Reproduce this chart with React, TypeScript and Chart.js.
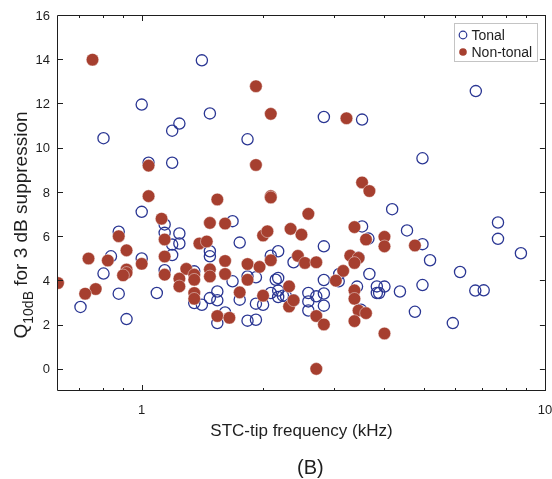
import React, { useEffect, useRef } from 'react';
import { Chart, registerables } from 'chart.js';

Chart.register(...registerables);

// STC-tip frequency (kHz) and Q10dB values
const tonalFreq = [
  1.41, 1.0, 1.476, 1.24, 1.19, 0.804, 1.83, 1.04, 1.19, 6.74,
  2.83, 3.52, 4.97, 4.18, 7.65, 3.52, 3.65, 4.55, 7.65, 4.97,
  8.72, 2.83, 5.19, 2.38, 3.45, 3.09, 3.08, 3.67, 6.16, 2.83,
  3.42, 3.83, 3.83, 4.0, 4.37, 4.97, 6.72, 7.05, 2.59, 2.71,
  2.83, 2.59, 2.83, 2.59, 2.38, 3.5, 4.76, 5.91, 1.0, 1.14,
  1.14, 1.24, 1.24, 1.19, 1.19, 1.68, 1.476, 1.476, 1.75, 1.68,
  1.75, 1.83, 1.92, 2.09, 2.18, 1.92, 2.0, 2.09, 2.18, 2.18,
  2.18, 2.24, 1.83, 1.92, 1.54, 1.61, 1.54, 1.54, 1.476, 1.41,
  1.35, 1.35, 1.09, 1.14, 1.0, 0.877, 0.839, 0.804, 0.877, 0.705,
  0.917, 2.15, 2.28, 3.88
];
const tonalQ = [
  13.95, 11.95, 11.55, 11.09, 10.77, 10.43, 10.38, 9.32, 9.32, 12.56,
  11.39, 11.27, 9.52, 7.22, 6.62, 6.44, 5.89, 6.26, 5.88, 5.64,
  5.23, 5.54, 4.91, 4.82, 5.02, 4.29, 3.96, 4.29, 4.38, 4.02,
  3.72, 3.73, 3.43, 3.72, 3.5, 3.79, 3.54, 3.55, 3.43, 3.28,
  3.41, 3.05, 2.86, 2.64, 3.1, 2.67, 2.58, 2.07, 7.1, 6.53,
  6.15, 6.12, 5.67, 5.62, 5.15, 6.68, 5.32, 5.09, 5.71, 3.96,
  3.13, 4.18, 4.14, 5.12, 5.32, 2.95, 2.9, 3.43, 4.11, 3.54,
  3.25, 3.31, 2.18, 2.22, 2.07, 2.55, 3.5, 3.1, 3.2, 2.9,
  2.98, 4.41, 3.43, 4.46, 4.99, 6.2, 5.09, 4.31, 3.4, 2.8,
  2.25, 4.03, 3.28, 3.43
];
const nonTonalFreq = [
  0.755, 1.92, 2.09, 1.04, 1.92, 1.04, 1.54, 2.09, 2.09, 3.22,
  3.52, 3.67, 2.59, 2.34, 2.49, 3.37, 3.6, 4.0, 4.0, 4.76,
  2.44, 2.54, 2.71, 3.29, 3.45, 3.37, 3.16, 3.03, 3.37, 3.37,
  2.32, 2.38, 2.32, 3.45, 3.6, 2.71, 2.83, 3.37, 4.0, 2.71,
  1.12, 1.14, 1.14, 1.476, 1.61, 1.39, 1.45, 1.61, 1.476, 1.61,
  1.476, 1.75, 1.83, 1.83, 1.96, 2.0, 2.05, 2.09, 2.0, 1.54,
  1.65, 1.35, 1.35, 1.29, 1.35, 1.35, 1.24, 1.24, 1.14, 1.0,
  0.917, 0.877, 0.824, 0.738, 0.917, 0.917, 0.899, 0.769, 0.724, 0.62
];
const nonTonalQ = [
  13.98, 12.78, 11.53, 9.19, 9.22, 7.81, 7.66, 7.81, 7.75, 11.33,
  8.43, 8.04, 7.01, 6.33, 6.07, 6.41, 5.85, 5.97, 5.54, 5.58,
  5.11, 4.79, 4.82, 5.12, 5.02, 4.79, 4.43, 3.99, 3.55, 3.17,
  2.82, 3.1, 3.73, 2.64, 2.52, 2.39, 2.01, 2.16, 1.6, 0.0,
  6.79, 5.85, 5.08, 6.6, 6.57, 5.67, 5.76, 4.88, 4.5, 4.29,
  4.18, 3.46, 4.74, 4.03, 4.61, 6.03, 6.22, 4.91, 3.31, 2.39,
  2.31, 3.43, 3.17, 4.52, 4.26, 4.03, 4.08, 3.73, 4.26, 4.75,
  5.36, 6.0, 4.9, 4.99, 4.49, 4.34, 4.23, 3.61, 3.4, 3.88
];

const seriesNames = ['Tonal', 'Non-tonal'];
const xMin = 0.62;
const xMax = 10;
const yMin = -1;
const yMax = 16;
const xMajorTicks = [1, 10];
const xMinorTicks = [0.7, 0.8, 0.9, 2, 3, 4, 5, 6, 7, 8, 9];
const yTicks = [0, 2, 4, 6, 8, 10, 12, 14, 16];
const xTitle = 'STC-tip frequency (kHz)';
const yTitleMain = 'Q';
const yTitleSub = '10dB';
const yTitleRest = ' for 3 dB suppression';
const panelLabel = '(B)';

const BLUE = '#2a3693';
const RED = '#a63f2f';
const INK = '#1e1e1e';
const FONT = '"Liberation Sans", Arial, Helvetica, sans-serif';

const framePlugin = {
  id: 'matlabFrame',
  afterDraw(chart: any) {
    const { ctx, chartArea } = chart;
    const xs = chart.scales.x;
    const ys = chart.scales.y;
    const L = chartArea.left, R = chartArea.right, T = chartArea.top, B = chartArea.bottom;
    ctx.save();
    ctx.strokeStyle = INK;
    ctx.lineWidth = 1;
    // box
    ctx.beginPath();
    ctx.rect(Math.round(L) - 0.5, Math.round(T) + 0.5, Math.round(R - L) + 1, Math.round(B - T) - 1);
    ctx.stroke();
    // x ticks (inward, top and bottom)
    const xtick = (v: number, len: number) => {
      const px = Math.round(xs.getPixelForValue(v)) + 0.5;
      ctx.beginPath();
      ctx.moveTo(px, B);
      ctx.lineTo(px, B - len);
      ctx.moveTo(px, T);
      ctx.lineTo(px, T + len);
      ctx.stroke();
    };
    xMajorTicks.forEach((v) => xtick(v, 6));
    xMinorTicks.forEach((v) => xtick(v, 3));
    // y ticks (inward, left and right)
    yTicks.forEach((v) => {
      const py = Math.round(ys.getPixelForValue(v)) + 0.5;
      ctx.beginPath();
      ctx.moveTo(L, py);
      ctx.lineTo(L + 5, py);
      ctx.moveTo(R, py);
      ctx.lineTo(R - 5, py);
      ctx.stroke();
    });
    // tick labels
    ctx.fillStyle = INK;
    ctx.font = `13px ${FONT}`;
    ctx.textAlign = 'right';
    ctx.textBaseline = 'middle';
    yTicks.forEach((v) => {
      ctx.fillText(String(v), L - 8, ys.getPixelForValue(v) + 1);
    });
    ctx.textAlign = 'center';
    ctx.textBaseline = 'top';
    xMajorTicks.forEach((v) => {
      ctx.fillText(String(v), xs.getPixelForValue(v), B + 13);
    });
    // x title
    ctx.font = `17px ${FONT}`;
    ctx.textBaseline = 'middle';
    ctx.fillText(xTitle, (L + R) / 2, B + 40);
    // panel label
    ctx.font = `20px ${FONT}`;
    ctx.fillText(panelLabel, (L + R) / 2 + 9, B + 77);
    // y title (rotated, with subscript)
    ctx.save();
    ctx.translate(27, 225);
    ctx.rotate(-Math.PI / 2);
    ctx.textAlign = 'left';
    ctx.textBaseline = 'alphabetic';
    const mainFont = `19px ${FONT}`;
    const subFont = `14px ${FONT}`;
    ctx.font = mainFont;
    const wQ = ctx.measureText(yTitleMain).width;
    const wRest = ctx.measureText(yTitleRest).width;
    ctx.font = subFont;
    const wSub = ctx.measureText(yTitleSub).width;
    const total = wQ + wSub + wRest;
    let x0 = -total / 2;
    ctx.font = mainFont;
    ctx.fillText(yTitleMain, x0, 0);
    x0 += wQ;
    ctx.font = subFont;
    ctx.fillText(yTitleSub, x0, 6);
    x0 += wSub;
    ctx.font = mainFont;
    ctx.fillText(yTitleRest, x0, 0);
    ctx.restore();
    // legend
    const lx = 454.5, ly = 23.5, lw = 83, lh = 38;
    ctx.fillStyle = '#ffffff';
    ctx.fillRect(lx, ly, lw, lh);
    ctx.strokeStyle = '#c4c4c4';
    ctx.strokeRect(lx, ly, lw, lh);
    const ds = chart.data.datasets;
    ctx.font = `14px ${FONT}`;
    ctx.textAlign = 'left';
    ctx.textBaseline = 'middle';
    [0, 1].forEach((i) => {
      const cy = ly + 11.5 + i * 17;
      ctx.beginPath();
      ctx.arc(lx + 8.5, cy, 3.8, 0, Math.PI * 2);
      if (i === 0) {
        ctx.strokeStyle = ds[i].borderColor;
        ctx.lineWidth = 1.2;
        ctx.stroke();
      } else {
        ctx.fillStyle = ds[i].backgroundColor;
        ctx.fill();
      }
      ctx.fillStyle = INK;
      ctx.fillText(ds[i].label, lx + 17, cy + 1);
    });
    ctx.restore();
  },
};

export default function App() {
  const canvasRef = useRef<HTMLCanvasElement | null>(null);
  useEffect(() => {
    const canvas = canvasRef.current;
    if (!canvas) return;
    const chart = new Chart(canvas, {
      type: 'scatter',
      data: {
        datasets: [
          {
            label: seriesNames[0],
            data: tonalFreq.map((f, i) => ({ x: f, y: tonalQ[i] })),
            pointStyle: 'circle',
            pointRadius: 5.6,
            pointBorderWidth: 1.3,
            borderColor: BLUE,
            backgroundColor: 'rgba(0,0,0,0)',
            pointBackgroundColor: 'rgba(0,0,0,0)',
            pointBorderColor: BLUE,
            order: 1,
            clip: 0,
          } as any,
          {
            label: seriesNames[1],
            data: nonTonalFreq.map((f, i) => ({ x: f, y: nonTonalQ[i] })),
            pointStyle: 'circle',
            pointRadius: 6.3,
            pointBorderWidth: 0.8,
            borderColor: 'rgba(255,255,255,0.55)',
            backgroundColor: RED,
            pointBackgroundColor: RED,
            pointBorderColor: 'rgba(255,255,255,0.55)',
            order: 0,
            clip: 0,
          } as any,
        ],
      },
      options: {
        responsive: false,
        animation: false,
        devicePixelRatio: 1,
        layout: { padding: { left: 58, top: 15, right: 6, bottom: 88 } },
        scales: {
          x: { type: 'logarithmic', min: xMin, max: xMax, bounds: 'data', display: false },
          y: { type: 'linear', min: yMin, max: yMax, bounds: 'data', display: false },
        },
        plugins: {
          legend: { display: false },
          tooltip: { enabled: false },
          title: { display: false },
        },
        events: [],
      },
      plugins: [framePlugin],
    });
    return () => chart.destroy();
  }, []);
  return (
    <div style={{ position: 'absolute', left: 0, top: 0, width: 552, height: 479, background: '#fff' }}>
      <canvas ref={canvasRef} width={552} height={479} style={{ width: 552, height: 479 }} />
    </div>
  );
}
